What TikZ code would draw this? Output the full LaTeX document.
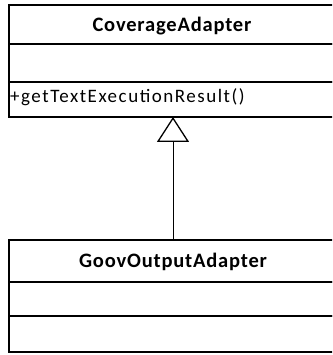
\documentclass[tikz,border=0pt]{standalone}
\usepackage{fontspec}
\setmainfont{Carlito}
\newfontfamily\headfont[LetterSpace=4]{Carlito}
\newfontfamily\opfont[LetterSpace=8]{Carlito}
\usetikzlibrary{arrows.meta}
\begin{document}
\begin{tikzpicture}[x=1pt,y=-1pt,
  compart/.style={draw,line width=1.3pt,minimum width=328pt,inner sep=0pt,
    outer sep=0pt,anchor=north west},
  classname/.style={anchor=base,inner sep=0pt,
    font=\headfont\bfseries\fontsize{20.5}{24}\selectfont},
  member/.style={anchor=base west,inner sep=0pt,
    font=\opfont\fontsize{19}{22}\selectfont},
  inherit/.style={line width=0.9pt,
    -{Triangle[open,length=25pt,width=32pt,line width=1.3pt]}}]
\clip (0,0) rectangle (332,355);
\useasboundingbox (0,0) rectangle (332,355);

% superclass
\node[compart,minimum height=39pt] (caName) at (9,5) {};
\node[compart,minimum height=38pt] (caAttr) at (9,44) {};
\node[compart,minimum height=35pt] (caOps) at (9,82) {};
\node[classname] (caLabel) at (172,32) {CoverageAdapter};
\node[member] (caMethod) at (10,103) {+getTextExecutionResult()};

% subclass
\node[compart,minimum height=42pt] (goName) at (9,240) {};
\node[compart,minimum height=34pt] (goAttr) at (9,282) {};
\node[compart,minimum height=36pt] (goOps) at (9,316) {};
\node[classname] (goLabel) at (173,267) {GoovOutputAdapter};

% generalization: subclass header up to the superclass bottom
\draw[inherit] (goName.north -| goLabel) -- (caOps.south -| goLabel);
\end{tikzpicture}
\end{document}
